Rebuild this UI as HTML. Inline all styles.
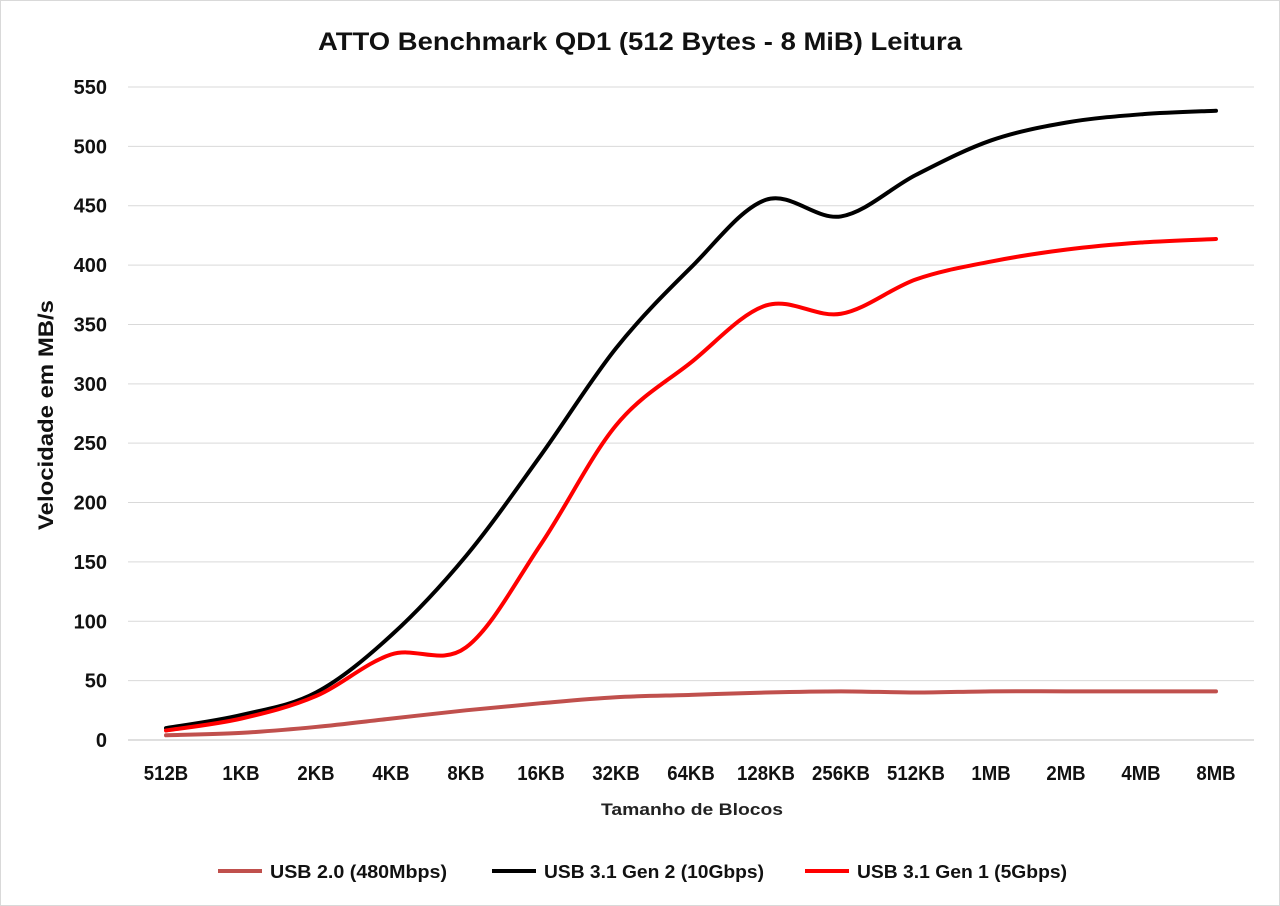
<!DOCTYPE html>
<html><head><meta charset="utf-8"><style>
html,body{margin:0;padding:0;background:#fff;}
svg{display:block;font-family:"Liberation Sans",Arial,sans-serif;}
</style></head><body>
<svg id="c" width="1280" height="906" xmlns="http://www.w3.org/2000/svg">
<rect x="0.5" y="0.5" width="1279" height="905" fill="#fff" stroke="#d9d9d9"/>
<text x="318" y="50" font-size="25" font-weight="bold" fill="#111" textLength="644" lengthAdjust="spacingAndGlyphs">ATTO Benchmark QD1 (512 Bytes - 8 MiB) Leitura</text>
<g id="grid"></g>
<g id="series"></g>
<text transform="translate(53,530) rotate(-90)" font-size="21" font-weight="bold" fill="#111" textLength="230" lengthAdjust="spacingAndGlyphs">Velocidade em MB/s</text>
<text x="601" y="815" font-size="17" font-weight="bold" fill="#222" textLength="182" lengthAdjust="spacingAndGlyphs">Tamanho de Blocos</text>
<line x1="218" y1="871" x2="262" y2="871" stroke="#c0504d" stroke-width="4"/>
<text x="270" y="878" font-size="18" font-weight="bold" fill="#111" textLength="177" lengthAdjust="spacingAndGlyphs">USB 2.0 (480Mbps)</text>
<line x1="492" y1="871" x2="536" y2="871" stroke="#000" stroke-width="4"/>
<text x="544" y="878" font-size="18" font-weight="bold" fill="#111" textLength="220" lengthAdjust="spacingAndGlyphs">USB 3.1 Gen 2 (10Gbps)</text>
<line x1="805" y1="871" x2="849" y2="871" stroke="#ff0000" stroke-width="4"/>
<text x="857" y="878" font-size="18" font-weight="bold" fill="#111" textLength="210" lengthAdjust="spacingAndGlyphs">USB 3.1 Gen 1 (5Gbps)</text>
</svg>
<script>
var NS="http://www.w3.org/2000/svg";
function el(p,t,a,txt){var e=document.createElementNS(NS,t);for(var k in a)e.setAttribute(k,a[k]);if(txt!=null)e.textContent=txt;p.appendChild(e);return e;}
var g=document.getElementById('grid'),s=document.getElementById('series');
function Y(v){return 740-v*(653/550);}
function X(i){return 166+i*75;}
for(var v=0;v<=550;v+=50){var y=Y(v);
 el(g,'line',{x1:128,x2:1254,y1:y,y2:y,stroke:v==0?'#bfbfbf':'#d9d9d9','stroke-width':1});
 var t=el(g,'text',{x:107,y:y+7,'text-anchor':'end','font-size':20,'font-weight':'bold',fill:'#111'},v);}
var cats=["512B","1KB","2KB","4KB","8KB","16KB","32KB","64KB","128KB","256KB","512KB","1MB","2MB","4MB","8MB"];
cats.forEach(function(c,i){el(g,'text',{x:X(i),y:780,'text-anchor':'middle','font-size':20,'font-weight':'bold',fill:'#111','transform':'translate('+X(i)+',0) scale(0.93,1) translate('+(-X(i))+',0)'},c);});
var data=[
 [[4,6,11,18,25,31,36,38,40,41,40,41,41,41,41],'#c0504d'],
 [[10,21,40,88,155,240,330,398,455,441,476,505,520,527,530],'#000'],
 [[8,18,37,72,78,165,265,318,366,359,388,403,413,419,422],'#ff0000']];
data.forEach(function(d){
 var p=d[0].map(function(v,i){return [X(i),Y(v)];});
 var path="M"+p[0][0]+","+p[0][1];
 for(var i=0;i<p.length-1;i++){
  var p0=p[Math.max(0,i-1)],p1=p[i],p2=p[i+1],p3=p[Math.min(p.length-1,i+2)];
  var t=1/6;
  path+=" C"+(p1[0]+(p2[0]-p0[0])*t)+","+(p1[1]+(p2[1]-p0[1])*t)+" "+(p2[0]-(p3[0]-p1[0])*t)+","+(p2[1]-(p3[1]-p1[1])*t)+" "+p2[0]+","+p2[1];
 }
 el(s,'path',{d:path,fill:'none',stroke:d[1],'stroke-width':4,'stroke-linecap':'round','stroke-linejoin':'round'});
});
</script>
</body></html>
